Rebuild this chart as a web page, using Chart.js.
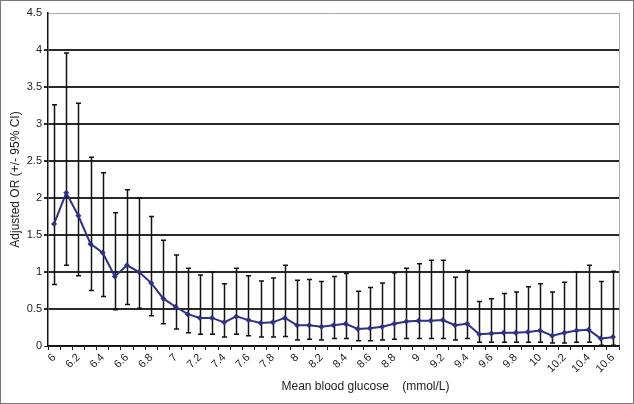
<!DOCTYPE html>
<html>
<head>
<meta charset="utf-8">
<script src="https://cdn.jsdelivr.net/npm/chart.js@4"></script>
<style>
  html, body { margin: 0; padding: 0; background: #fff; }
  #wrap { width: 634px; height: 404px; }
</style>
</head>
<body>
<div id="wrap"><canvas id="c" width="634" height="404"></canvas></div>
<script>
// mean blood glucose categories (mmol/L)
const categories = [
  "6", "6.1", "6.2", "6.3", "6.4", "6.5", "6.6", "6.7", "6.8", "6.9",
  "7", "7.1", "7.2", "7.3", "7.4", "7.5", "7.6", "7.7", "7.8", "7.9",
  "8", "8.1", "8.2", "8.3", "8.4", "8.5", "8.6", "8.7", "8.8", "8.9",
  "9", "9.1", "9.2", "9.3", "9.4", "9.5", "9.6", "9.7", "9.8", "9.9",
  "10", "10.1", "10.2", "10.3", "10.4", "10.5", "10.6"
];

// adjusted odds ratio
const oddsRatio = [
  1.65, 2.07, 1.76, 1.38, 1.26, 0.94, 1.09, 1.00, 0.85, 0.64,
  0.53, 0.43, 0.38, 0.38, 0.32, 0.40, 0.35, 0.31, 0.32, 0.38,
  0.28, 0.28, 0.26, 0.28, 0.30, 0.23, 0.24, 0.26, 0.30, 0.33,
  0.34, 0.34, 0.35, 0.28, 0.30, 0.16, 0.17, 0.18, 0.18, 0.19,
  0.21, 0.14, 0.18, 0.21, 0.22, 0.10, 0.12
];

// 95% CI bounds
const ciUpper = [
  3.26, 3.96, 3.28, 2.55, 2.34, 1.80, 2.11, 2.00, 1.75, 1.43,
  1.23, 1.05, 0.96, 1.00, 0.84, 1.05, 0.95, 0.88, 0.92, 1.09,
  0.89, 0.90, 0.87, 0.94, 0.98, 0.74, 0.79, 0.85, 0.99, 1.05,
  1.11, 1.16, 1.16, 0.93, 1.02, 0.60, 0.64, 0.71, 0.73, 0.80,
  0.84, 0.73, 0.86, 1.00, 1.09, 0.87, 1.01
];
const ciLower = [
  0.83, 1.09, 0.95, 0.75, 0.67, 0.49, 0.56, 0.51, 0.41, 0.30,
  0.23, 0.18, 0.16, 0.16, 0.12, 0.16, 0.14, 0.12, 0.12, 0.13,
  0.08, 0.09, 0.08, 0.10, 0.10, 0.07, 0.07, 0.08, 0.09, 0.10,
  0.10, 0.10, 0.10, 0.08, 0.10, 0.05, 0.05, 0.05, 0.05, 0.05,
  0.05, 0.04, 0.04, 0.05, 0.05, 0.01, 0.01
];

const FONT = "'Liberation Sans', Arial, sans-serif";

// white page, outer frame, grey plot border on top and right
const framePlugin = {
  id: "frame",
  beforeDraw(chart) {
    const { ctx, chartArea: a } = chart;
    ctx.save();
    ctx.fillStyle = "#fff";
    ctx.fillRect(0, 0, chart.width, chart.height);
    ctx.strokeStyle = "#777";
    ctx.lineWidth = 1;
    ctx.strokeRect(0.5, 0.5, chart.width - 1, chart.height - 1);
    ctx.strokeStyle = "#aaa";
    ctx.beginPath();
    ctx.moveTo(a.left, a.top + 0.5);
    ctx.lineTo(a.right + 0.5, a.top + 0.5);
    ctx.lineTo(a.right + 0.5, a.bottom);
    ctx.stroke();
    ctx.restore();
  },
  afterDraw(chart) {
    const { ctx, chartArea: a } = chart;
    ctx.save();
    ctx.fillStyle = "#222";
    ctx.font = "12px " + FONT;
    ctx.textAlign = "center";
    ctx.textBaseline = "middle";
    ctx.fillText("Mean blood glucose    (mmol/L)", (a.left + a.right) / 2 + 32, 387);
    ctx.restore();
  }
};

// vertical CI bars with end caps
const errorBars = {
  id: "errorBars",
  beforeDatasetsDraw(chart) {
    const { ctx } = chart;
    const x = chart.scales.x, y = chart.scales.y;
    ctx.save();
    ctx.strokeStyle = "#111";
    ctx.lineWidth = 1.5;
    for (let i = 0; i < categories.length; i++) {
      const px = Math.round(x.getPixelForValue(i)) + 0.5;
      const top = y.getPixelForValue(ciUpper[i]);
      const bot = y.getPixelForValue(ciLower[i]);
      ctx.beginPath();
      ctx.moveTo(px, top);
      ctx.lineTo(px, bot);
      ctx.moveTo(px - 2.5, top);
      ctx.lineTo(px + 2.5, top);
      ctx.moveTo(px - 2.5, bot);
      ctx.lineTo(px + 2.5, bot);
      ctx.stroke();
    }
    ctx.restore();
  }
};

new Chart(document.getElementById("c"), {
  type: "line",
  data: {
    labels: categories,
    datasets: [{
      data: oddsRatio,
      borderColor: "#2f3182",
      backgroundColor: "#2f3182",
      borderWidth: 2,
      pointStyle: "rectRot",
      pointRadius: 3,
      pointBorderWidth: 0,
      tension: 0
    }]
  },
  plugins: [framePlugin, errorBars],
  options: {
    responsive: false,
    animation: false,
    layout: { padding: { top: 13, right: 15, left: 0, bottom: 0 } },
    plugins: { legend: { display: false }, tooltip: { enabled: false } },
    scales: {
      x: {
        offset: true,
        afterFit(s) { s.height = 58; },
        grid: {
          offset: true,
          drawOnChartArea: false,
          drawTicks: true,
          tickLength: 4,
          color: "#111"
        },
        border: { color: "#111", width: 1.5 },
        ticks: {
          autoSkip: false,
          minRotation: 45,
          maxRotation: 45,
          padding: 1,
          color: "#222",
          font: { family: FONT, size: 11 },
          callback(v, i) { return i % 2 === 0 ? categories[i] : ""; }
        }
      },
      y: {
        min: 0,
        max: 4.5,
        afterFit(s) { s.width = 48; },
        grid: {
          drawTicks: true,
          tickLength: 4,
          color: (c) => c.tick.value === 4.5 ? "rgba(0,0,0,0)" : "#2a2a2a",
          lineWidth: (c) => c.tick.value === 0 ? 1 : 2
        },
        border: { color: "#111", width: 1.5 },
        ticks: {
          stepSize: 0.5,
          padding: 2,
          color: "#222",
          font: { family: FONT, size: 11 },
          callback: (v) => String(Math.round(v * 10) / 10)
        },
        title: {
          display: true,
          text: "Adjusted OR (+/- 95% CI)",
          color: "#222",
          font: { family: FONT, size: 12 },
          padding: { top: 8, bottom: 0 }
        }
      }
    }
  }
});
</script>
</body>
</html>
